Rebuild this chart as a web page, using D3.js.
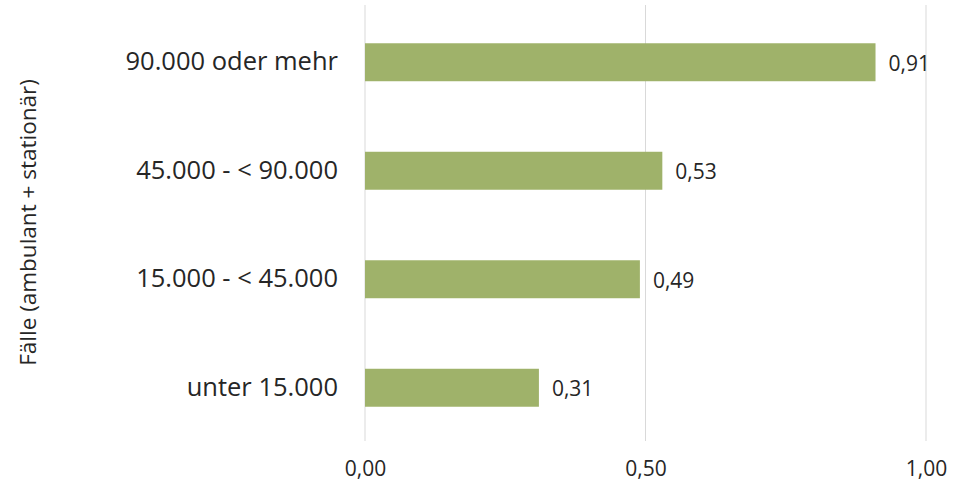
<!DOCTYPE html>
<html>
<head>
<meta charset="utf-8">
<script src="https://cdn.jsdelivr.net/npm/d3@7"></script>
<style>
  body { margin: 0; background: #fff; }
  svg text { fill: #262626; }
</style>
</head>
<body>
<div id="chart"></div>
<script>
const categories = ["90.000 oder mehr", "45.000 - < 90.000", "15.000 - < 45.000", "unter 15.000"];
const values = [0.91, 0.53, 0.49, 0.31];
const xTicks = [0, 0.5, 1.0];
const yTitle = "Fälle (ambulant + stationär)";

const width = 962;
const height = 488;
const margin = { top: 8, right: 36, bottom: 46, left: 365 };
const font = "'Open Sans', sans-serif";

const fmt = (v) => d3.format(".2f")(v).replace(".", ",");

const svg = d3
  .select("#chart")
  .append("svg")
  .attr("width", width)
  .attr("height", height)
  .style("font-family", font);

const x = d3
  .scaleLinear()
  .domain([0, 1])
  .range([margin.left, width - margin.right]);

const y = d3
  .scaleBand()
  .domain(categories)
  .range([margin.top, height - margin.bottom])
  .paddingInner(0.65)
  .paddingOuter(0.325);

// gridlines
svg
  .append("g")
  .selectAll("line")
  .data(xTicks)
  .join("line")
  .attr("x1", (d) => x(d))
  .attr("x2", (d) => x(d))
  .attr("y1", 5)
  .attr("y2", 441)
  .attr("stroke", "#d9d9d9")
  .attr("stroke-width", 1);

// bars
svg
  .append("g")
  .selectAll("rect")
  .data(values)
  .join("rect")
  .attr("x", x(0))
  .attr("y", (d, i) => y(categories[i]))
  .attr("width", (d) => x(d) - x(0))
  .attr("height", y.bandwidth())
  .attr("fill", "#9fb26a");

// value labels
svg
  .append("g")
  .selectAll("text")
  .data(values)
  .join("text")
  .attr("x", (d) => x(d) + 13)
  .attr("y", (d, i) => y(categories[i]) + y.bandwidth() / 2 + 3)
  .attr("dominant-baseline", "middle")
  .style("font-family", font)
  .style("font-size", "21px")
  .text((d) => fmt(d));

// category axis
const yAxis = svg
  .append("g")
  .attr("transform", `translate(${margin.left - 27},0)`)
  .call(d3.axisLeft(y).tickSize(0).tickPadding(0));
yAxis.select(".domain").remove();
yAxis
  .selectAll("text")
  .style("font-family", font)
  .style("font-size", "25.5px")
  .attr("fill", "#262626");

// x axis labels
const xAxis = svg
  .append("g")
  .attr("transform", `translate(0,${height - 16})`)
  .call(d3.axisBottom(x).tickValues(xTicks).tickFormat(fmt).tickSize(0).tickPadding(0));
xAxis.select(".domain").remove();
xAxis
  .selectAll("text")
  .style("font-family", font)
  .style("font-size", "21px")
  .attr("fill", "#262626")
  .attr("dy", "0.2em");

// y axis title
svg
  .append("text")
  .attr("transform", `translate(30,${(margin.top + 441) / 2 - 2}) rotate(-90)`)
  .attr("text-anchor", "middle")
  .attr("dominant-baseline", "middle")
  .style("font-family", font)
  .style("font-size", "22.5px")
  .attr("fill", "#404040")
  .text(yTitle);
</script>
</body>
</html>
